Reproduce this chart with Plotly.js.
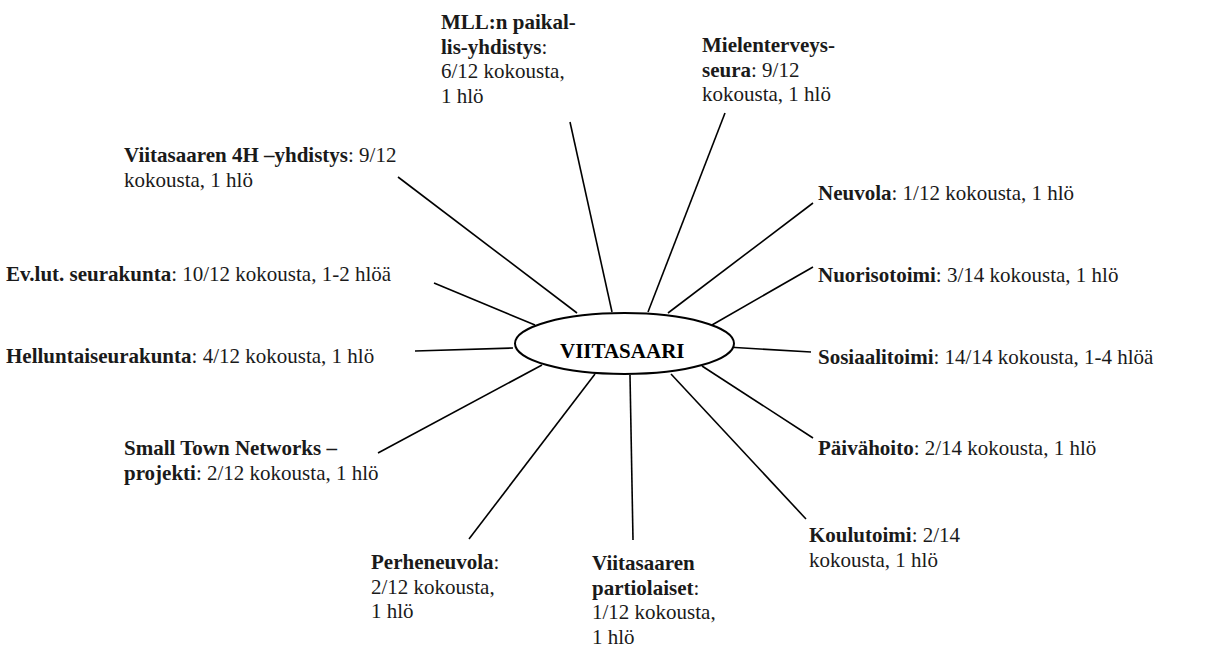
<!DOCTYPE html>
<html>
<head>
<meta charset="utf-8">
<script src="https://cdn.plot.ly/plotly-3.0.1.min.js"></script>
<style>html,body{margin:0;padding:0;background:#fff;}#chart{width:1208px;height:649px;}</style>
</head>
<body>
<div id="chart"></div>
<script>
// ---- data ----
const centerLabel = "VIITASAARI";
const orgs = ["MLL:n paikal-lis-yhdistys", "Mielenterveys-seura", "Neuvola", "Nuorisotoimi", "Sosiaalitoimi", "Päivähoito", "Koulutoimi", "Viitasaaren partiolaiset", "Perheneuvola", "Small Town Networks – projekti", "Helluntaiseurakunta", "Ev.lut. seurakunta", "Viitasaaren 4H –yhdistys"];
const attended = [6, 9, 1, 3, 14, 2, 2, 1, 2, 2, 4, 10, 9];
const total = [12, 12, 12, 14, 14, 14, 14, 12, 12, 12, 12, 12, 12];
const persons = ["1", "1", "1", "1", "1-4", "1", "1", "1", "1", "1", "1", "1-2", "1"];

// ---- layout (positions in pixel-like axis units) ----
const labelPos = [
  {x: 442, y: 22, br: ["paikal-", "yhdistys:", "kokousta,"]},
  {x: 703, y: 45, br: ["Mielenterveys-", "9/12"]},
  {x: 819, y: 193, br: []},
  {x: 819, y: 275, br: []},
  {x: 819, y: 357, br: []},
  {x: 819, y: 448, br: []},
  {x: 810, y: 535, br: ["2/14"]},
  {x: 593, y: 563, br: ["Viitasaaren", "partiolaiset:", "kokousta,"]},
  {x: 372, y: 562, br: ["Perheneuvola:", "kokousta,"]},
  {x: 125, y: 448, br: ["–"]},
  {x: 7, y: 356, br: []},
  {x: 7, y: 274, br: []},
  {x: 125, y: 155, br: ["9/12"]}
];
const spokes = [
  [570, 122, 612, 312],
  [725, 113, 648, 312],
  [813, 203, 668, 313],
  [813, 267, 712, 325],
  [811, 352, 727, 347],
  [813, 438, 702, 366],
  [806, 519, 671, 374],
  [633, 540, 630, 375],
  [469, 539, 595, 374],
  [378, 453, 542, 365],
  [415, 351, 513, 348],
  [434, 283, 535, 325],
  [398, 177, 577, 313]
];
const ellipse = {x0: 515, x1: 734, y0: 313, y1: 374};
const lineGap = 24.5;
const FONT = "Liberation Serif";

function buildLines(i) {
  const name = orgs[i];
  const unit = persons[i].indexOf("-") >= 0 ? "hlöä" : "hlö";
  const T = name + ": " + attended[i] + "/" + total[i] + " kokousta, " + persons[i] + " " + unit;
  const nl = name.length;
  const ranges = [];
  let start = 0, pos = 0;
  labelPos[i].br.forEach(s => {
    const idx = T.indexOf(s, pos);
    const cut = idx + s.length;
    ranges.push([start, cut]);
    start = (T[cut] === " ") ? cut + 1 : cut;
    pos = start;
  });
  ranges.push([start, T.length]);
  return ranges.map(([a, b]) => {
    let html = "";
    const bEnd = Math.min(b, nl);
    if (a < bEnd) html += "<b>" + T.slice(a, bEnd) + "</b>";
    const rs = Math.max(a, nl);
    if (rs < b) html += T.slice(rs, b);
    return html;
  });
}

const traces = spokes.map((s, i) => ({
  x: [s[0], s[2]], y: [s[1], s[3]],
  mode: "lines", type: "scatter", hoverinfo: "skip", showlegend: false,
  line: {color: "#000", width: 1.6}
}));

const annotations = [];
orgs.forEach((o, i) => {
  buildLines(i).forEach((t, k) => {
    annotations.push({
      x: labelPos[i].x - 3, y: labelPos[i].y + k * lineGap,
      xref: "x", yref: "y", xanchor: "left", yanchor: "middle",
      text: t, showarrow: false, align: "left",
      font: {family: FONT, size: 21, color: "#1a1a1a"}
    });
  });
});
annotations.push({
  x: (ellipse.x0 + ellipse.x1) / 2 - 3, y: (ellipse.y0 + ellipse.y1) / 2 + 7,
  xref: "x", yref: "y", xanchor: "center", yanchor: "middle",
  text: "<b>" + centerLabel + "</b>", showarrow: false,
  font: {family: FONT, size: 21, color: "#000"}
});

const layout = {
  width: 1208, height: 649,
  margin: {l: 0, r: 0, t: 0, b: 0},
  paper_bgcolor: "#fff", plot_bgcolor: "#fff",
  font: {family: FONT},
  xaxis: {range: [0, 1208], visible: false, fixedrange: true},
  yaxis: {range: [649, 0], visible: false, fixedrange: true},
  shapes: [{
    type: "circle", xref: "x", yref: "y",
    x0: ellipse.x0, x1: ellipse.x1, y0: ellipse.y0, y1: ellipse.y1,
    line: {color: "#000", width: 2}, fillcolor: "#fff", layer: "above"
  }],
  annotations: annotations,
  showlegend: false
};

Plotly.newPlot("chart", traces, layout, {staticPlot: true, displayModeBar: false});
</script>
</body>
</html>
